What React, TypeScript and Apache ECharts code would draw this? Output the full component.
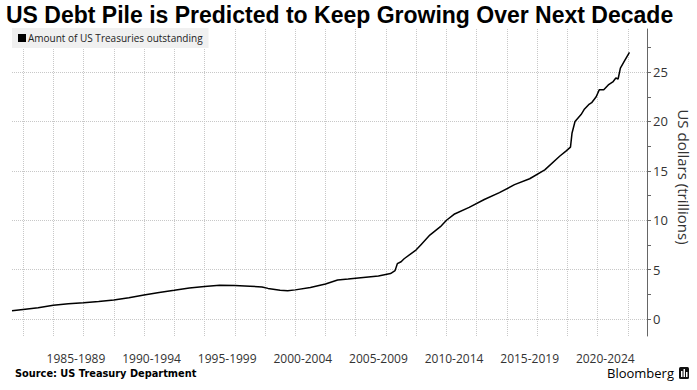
import React, { useEffect, useRef } from "react";
import * as echarts from "echarts";

const years = [
  1983.27, 1984.0, 1985.0, 1986.0, 1987.0, 1988.0, 1989.0, 1990.0, 1991.0, 1992.0,
  1993.0, 1994.0, 1995.0, 1996.0, 1997.0, 1998.0, 1999.0, 1999.8, 2000.2, 2001.0,
  2001.5, 2002.0, 2003.0, 2004.0, 2004.8, 2005.5, 2006.5, 2007.5, 2008.3, 2008.6,
  2008.75, 2009.0, 2009.2, 2010.0, 2010.3, 2010.9, 2011.6, 2012.0, 2012.5, 2013.5,
  2014.5, 2015.5, 2016.5, 2017.5, 2018.5, 2019.5, 2019.9, 2020.2, 2020.3, 2020.5,
  2020.9, 2021.1, 2021.4, 2021.6, 2021.9, 2022.1, 2022.4, 2022.7, 2023.0, 2023.2,
  2023.35, 2023.5, 2023.8, 2024.1,
];
const debt = [
  0.84, 0.97, 1.15, 1.4, 1.55, 1.65, 1.78, 1.92, 2.15, 2.43,
  2.68, 2.9, 3.15, 3.3, 3.42, 3.4, 3.32, 3.25, 3.1, 2.92,
  2.85, 2.95, 3.2, 3.55, 3.95, 4.05, 4.2, 4.35, 4.6, 4.9,
  5.6, 5.8, 6.1, 7.0, 7.5, 8.5, 9.35, 10.0, 10.6, 11.3,
  12.1, 12.8, 13.6, 14.2, 15.1, 16.5, 17.0, 17.4, 18.8, 20.0,
  20.7, 21.2, 21.7, 21.9, 22.5, 23.2, 23.2, 23.7, 24.0, 24.4,
  24.3, 25.4, 26.2, 27.0,
];
const xLabelCenters = [1987.5, 1992.5, 1997.5, 2002.5, 2007.5, 2012.5, 2017.5, 2022.5];
const xGridYears = [
  1984, 1986, 1988, 1990, 1992, 1994, 1996, 1998, 2000, 2002, 2004, 2006, 2008, 2010,
  2012, 2014, 2016, 2018, 2020, 2022, 2024,
];
const yLabels = [0, 5, 10, 15, 20, 25];
const yTicks = [0, 2.5, 5, 7.5, 10, 12.5, 15, 17.5, 20, 22.5, 25, 27.5];

const FONT = "'Open Sans', sans-serif";
const HEAVY = "'DejaVu Sans', Verdana, sans-serif";
const TITLE_FONT = "'Liberation Sans', Arial, sans-serif";

export default function App() {
  const ref = useRef<HTMLDivElement>(null);
  useEffect(() => {
    if (!ref.current) return;
    const chart = echarts.init(ref.current, null, { renderer: "svg" });
    const xMin = 1983.27;
    const xMax = 2025.26;
    const yMin = -1.72;
    const yMax = 29.36;
    chart.setOption({
      animation: false,
      backgroundColor: "#ffffff",
      title: {
        text: "US Debt Pile is Predicted to Keep Growing Over Next Decade",
        left: 6,
        top: 3,
        padding: [0, 0, 0, 0],
        textStyle: {
          fontFamily: TITLE_FONT,
          fontWeight: "bold",
          fontSize: 23,
          color: "#000",
        },
      },
      legend: {
        left: 12,
        top: 28,
        padding: [5, 6, 5, 6],
        backgroundColor: "#f0f0f0",
        icon: "rect",
        itemWidth: 8,
        itemHeight: 8,
        itemGap: 4,
        textStyle: { fontFamily: FONT, fontSize: 10, color: "#222", padding: [0, 0, 0, -3] },
        data: ["Amount of US Treasuries outstanding"],
      },
      grid: { left: 12, right: 50, top: 29, bottom: 54, outerBoundsMode: "none" },
      xAxis: [
        {
          type: "value",
          min: xMin,
          max: xMax,
          axisLine: { show: false },
          axisTick: { show: false, customValues: xGridYears },
          splitLine: { show: true, lineStyle: { type: "dotted", color: "#c8c8c8", width: 1 } },
          axisLabel: {
            customValues: xLabelCenters,
            margin: 16,
            fontFamily: FONT,
            fontSize: 12,
            color: "#333",
            formatter: (v: number) => `${Math.round(v - 2.5)}-${Math.round(v + 1.5)}`,
          },
        },
      ],
      yAxis: [
        {
          type: "value",
          position: "right",
          min: yMin,
          max: yMax,
          axisLine: { show: true, onZero: false, lineStyle: { color: "#666", width: 1 } },
          axisTick: { show: true, customValues: yTicks, length: 4, lineStyle: { color: "#666" } },
          splitLine: { show: false },
          axisLabel: {
            customValues: yLabels,
            margin: 6,
            fontFamily: FONT,
            fontSize: 13,
            color: "#333",
          },
        },
        {
          type: "value",
          position: "right",
          min: yMin,
          max: yMax,
          axisLine: { show: false },
          axisTick: { show: false, customValues: yLabels },
          axisLabel: { show: false },
          splitLine: { show: true, lineStyle: { type: "dotted", color: "#c8c8c8", width: 1 } },
        },
      ],
      series: [
        {
          name: "Amount of US Treasuries outstanding",
          type: "line",
          xAxisIndex: 0,
          yAxisIndex: 0,
          showSymbol: false,
          symbol: "none",
          lineStyle: { color: "#000", width: 1.5 },
          itemStyle: { color: "#000" },
          data: years.map((y, i) => [y, debt[i]]),
        },
      ],
      graphic: [
        {
          type: "text",
          x: 684,
          y: 177,
          rotation: -Math.PI / 2,
          style: {
            text: "US dollars (trillions)",
            x: 0,
            y: 0,
            fontFamily: FONT,
            fontSize: 15,
            fill: "#333",
            align: "center",
            verticalAlign: "middle",
          },
        },
        {
          type: "text",
          x: 15,
          y: 373,
          style: {
            text: "Source: US Treasury Department",
            fontFamily: HEAVY,
            fontWeight: "bold",
            fontSize: 9.8,
            fill: "#000",
            verticalAlign: "middle",
          },
        },
        {
          type: "text",
          x: 674,
          y: 373,
          style: {
            text: "Bloomberg",
            fontFamily: FONT,
            fontSize: 13,
            fontWeight: 500,
            fill: "#000",
            align: "right",
            verticalAlign: "middle",
          },
        },
        {
          type: "rect",
          shape: { x: 679, y: 367, width: 10, height: 12, r: 1.5 },
          style: { fill: "#111" },
        },
        {
          type: "rect",
          shape: { x: 681, y: 371, width: 1.5, height: 6 },
          style: { fill: "#fff" },
        },
        {
          type: "rect",
          shape: { x: 683.5, y: 369, width: 1.5, height: 8 },
          style: { fill: "#fff" },
        },
        {
          type: "rect",
          shape: { x: 686, y: 372, width: 1.5, height: 5 },
          style: { fill: "#fff" },
        },
      ],
    });
    return () => chart.dispose();
  }, []);
  return (
    <div
      ref={ref}
      style={{ position: "fixed", left: 0, top: 0, width: 697, height: 390 }}
    />
  );
}
